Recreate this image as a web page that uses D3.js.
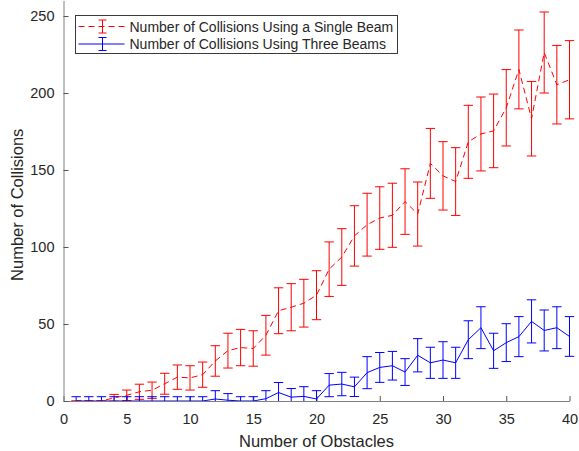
<!DOCTYPE html>
<html>
<head>
<meta charset="utf-8">
<script src="https://cdn.jsdelivr.net/npm/d3@7"></script>
<style>
  body { margin: 0; background: #fff; }
  svg { display: block; font-family: "Liberation Sans", Arial, Helvetica, sans-serif; }
</style>
</head>
<body>
<div id="chart"></div>
<script>
// obstacle counts on the x axis
const obstacles = [1, 2, 3, 4, 5, 6, 7, 8, 9, 10, 11, 12, 13, 14, 15, 16, 17, 18, 19, 20,
    21, 22, 23, 24, 25, 26, 27, 28, 29, 30, 31, 32, 33, 34, 35, 36, 37, 38, 39, 40];

// single beam: mean and error (half bar length)
const singleMean = [0, 0, 0, 2.1, 3.7, 6.0, 7.0, 11.2, 15.5, 15.0, 17.1, 26.0, 32.7, 34.7, 34.1, 42.7,
    58.6, 60.9, 63.5, 68.7, 85.6, 93.5, 107.2, 114.5, 118.8, 120.6, 129.5, 121.4, 154.3, 146.2,
    142.5, 168.3, 173.4, 175.4, 190.4, 215.3, 183.3, 226.3, 205.4, 208.6];
const singleErr = [0, 0, 0, 2.2, 3.4, 4.9, 5.3, 6.8, 7.9, 7.9, 8.2, 9.9, 11.3, 11.8, 11.5, 12.9,
    14.9, 15.3, 15.5, 15.9, 17.7, 18.4, 19.6, 20.4, 20.3, 20.8, 21.3, 20.8, 22.7, 22.2,
    22.0, 23.7, 24.0, 23.9, 24.8, 25.6, 24.2, 26.3, 25.5, 25.4];

// three beams: mean and error
const threeMean = [0, 0, 0, 0, 0, 0, 0, 0, 0, 0, 0, 1.3, 0.5, 0, 0, 1.5, 5.5, 2.5, 3.0, 1.3,
    10.3, 11.0, 9.2, 18.4, 21.8, 22.9, 18.8, 29.7, 24.8, 26.6, 24.8, 39.8, 47.6, 32.6, 37.9,
    41.8, 51.7, 45.8, 47.6, 41.9];
const threeErr = [2.8, 2.8, 2.8, 2.8, 2.8, 2.8, 2.8, 2.8, 2.8, 2.8, 2.8, 5.4, 4.3, 2.8, 2.8, 5.2,
    6.5, 5.6, 6.3, 5.4, 7.5, 7.6, 6.3, 10.4, 9.7, 9.3, 8.7, 10.8, 10.1, 11.9, 10.1, 12.3, 13.6,
    11.4, 12.3, 13.0, 14.0, 13.3, 13.6, 12.9];

const xTicks = [0, 5, 10, 15, 20, 25, 30, 35, 40];
const yTicks = [0, 50, 100, 150, 200, 250];
const seriesNames = ["Number of Collisions Using a Single Beam", "Number of Collisions Using Three Beams"];

const width = 579, height = 451;
const margin = { top: 0.6, right: 9.5, bottom: 50, left: 63.5 };
const plotW = width - margin.left - margin.right;
const plotH = height - margin.top - margin.bottom;
const textColor = "#262626";
const axisColor = "#808080";

const svg = d3.select("#chart").append("svg")
    .attr("width", width)
    .attr("height", height);

const g = svg.append("g")
    .attr("transform", `translate(${margin.left},${margin.top})`);

const x = d3.scaleLinear().domain([0, 40]).range([0, plotW]);
const y = d3.scaleLinear().domain([0, 260]).range([plotH, 0]);

svg.append("defs").append("clipPath")
    .attr("id", "plotClip")
    .append("rect")
    .attr("x", -6).attr("y", -1)
    .attr("width", plotW + 12).attr("height", plotH + 1);

// axes with inward ticks
const xAxis = g.append("g")
    .attr("transform", `translate(0,${plotH})`)
    .call(d3.axisBottom(x).tickValues(xTicks).tickSizeInner(-5).tickSizeOuter(0).tickPadding(13));
const yAxis = g.append("g")
    .call(d3.axisLeft(y).tickValues(yTicks).tickSizeInner(-5).tickSizeOuter(0).tickPadding(9));

[xAxis, yAxis].forEach(ax => {
    ax.select(".domain").attr("stroke", axisColor).attr("stroke-width", 1);
    ax.selectAll(".tick line").attr("stroke", "#555");
    ax.selectAll(".tick text").attr("fill", textColor).style("font-size", "14.5px");
});

svg.append("text")
    .attr("x", margin.left + plotW / 2)
    .attr("y", 447)
    .attr("text-anchor", "middle")
    .attr("fill", textColor)
    .style("font-size", "16.5px")
    .text("Number of Obstacles");

svg.append("text")
    .attr("transform", `translate(23,${margin.top + plotH / 2 + 4}) rotate(-90)`)
    .attr("text-anchor", "middle")
    .attr("fill", textColor)
    .style("font-size", "16.5px")
    .text("Number of Collisions");

const series = [
    { mean: singleMean, err: singleErr, color: "#ff0000", dash: "6,4" },
    { mean: threeMean, err: threeErr, color: "#0000ff", dash: null }
];

const capHalf = 4.7;
const plot = g.append("g").attr("clip-path", "url(#plotClip)");

series.forEach(s => {
    const pts = obstacles.map((o, i) => ({ x: o, m: s.mean[i], e: s.err[i] }));
    const sg = plot.append("g");

    sg.append("path")
        .datum(pts)
        .attr("fill", "none")
        .attr("stroke", s.color)
        .attr("stroke-width", 1)
        .attr("stroke-dasharray", s.dash)
        .attr("d", d3.line().x(d => x(d.x)).y(d => y(d.m)));

    const bars = sg.selectAll("g.bar")
        .data(pts)
        .join("g")
        .attr("class", "bar")
        .attr("stroke", s.color)
        .attr("stroke-width", 1);

    bars.append("line")
        .attr("x1", d => x(d.x)).attr("x2", d => x(d.x))
        .attr("y1", d => y(d.m - d.e)).attr("y2", d => y(d.m + d.e));
    bars.append("line")
        .attr("x1", d => x(d.x) - capHalf).attr("x2", d => x(d.x) + capHalf)
        .attr("y1", d => y(d.m + d.e)).attr("y2", d => y(d.m + d.e));
    bars.append("line")
        .attr("x1", d => x(d.x) - capHalf).attr("x2", d => x(d.x) + capHalf)
        .attr("y1", d => y(d.m - d.e)).attr("y2", d => y(d.m - d.e));
});

// legend
const legend = svg.append("g").attr("transform", "translate(75.5,15.5)");
legend.append("rect")
    .attr("width", 322).attr("height", 38)
    .attr("fill", "#fff")
    .attr("stroke", "#3a3a3a")
    .attr("stroke-width", 1);

series.forEach((s, i) => {
    const cy = 11 + i * 17.5;
    const item = legend.append("g").attr("stroke", s.color).attr("stroke-width", 1);
    item.append("line")
        .attr("x1", 3).attr("x2", 49)
        .attr("y1", cy).attr("y2", cy)
        .attr("stroke-dasharray", s.dash);
    item.append("line").attr("x1", 27).attr("x2", 27).attr("y1", cy - 6.5).attr("y2", cy + 6.5);
    item.append("line").attr("x1", 23).attr("x2", 31).attr("y1", cy - 6.5).attr("y2", cy - 6.5);
    item.append("line").attr("x1", 23).attr("x2", 31).attr("y1", cy + 6.5).attr("y2", cy + 6.5);
    legend.append("text")
        .attr("x", 54).attr("y", cy + 5)
        .attr("fill", textColor)
        .style("font-size", "14px")
        .text(seriesNames[i]);
});
</script>
</body>
</html>
